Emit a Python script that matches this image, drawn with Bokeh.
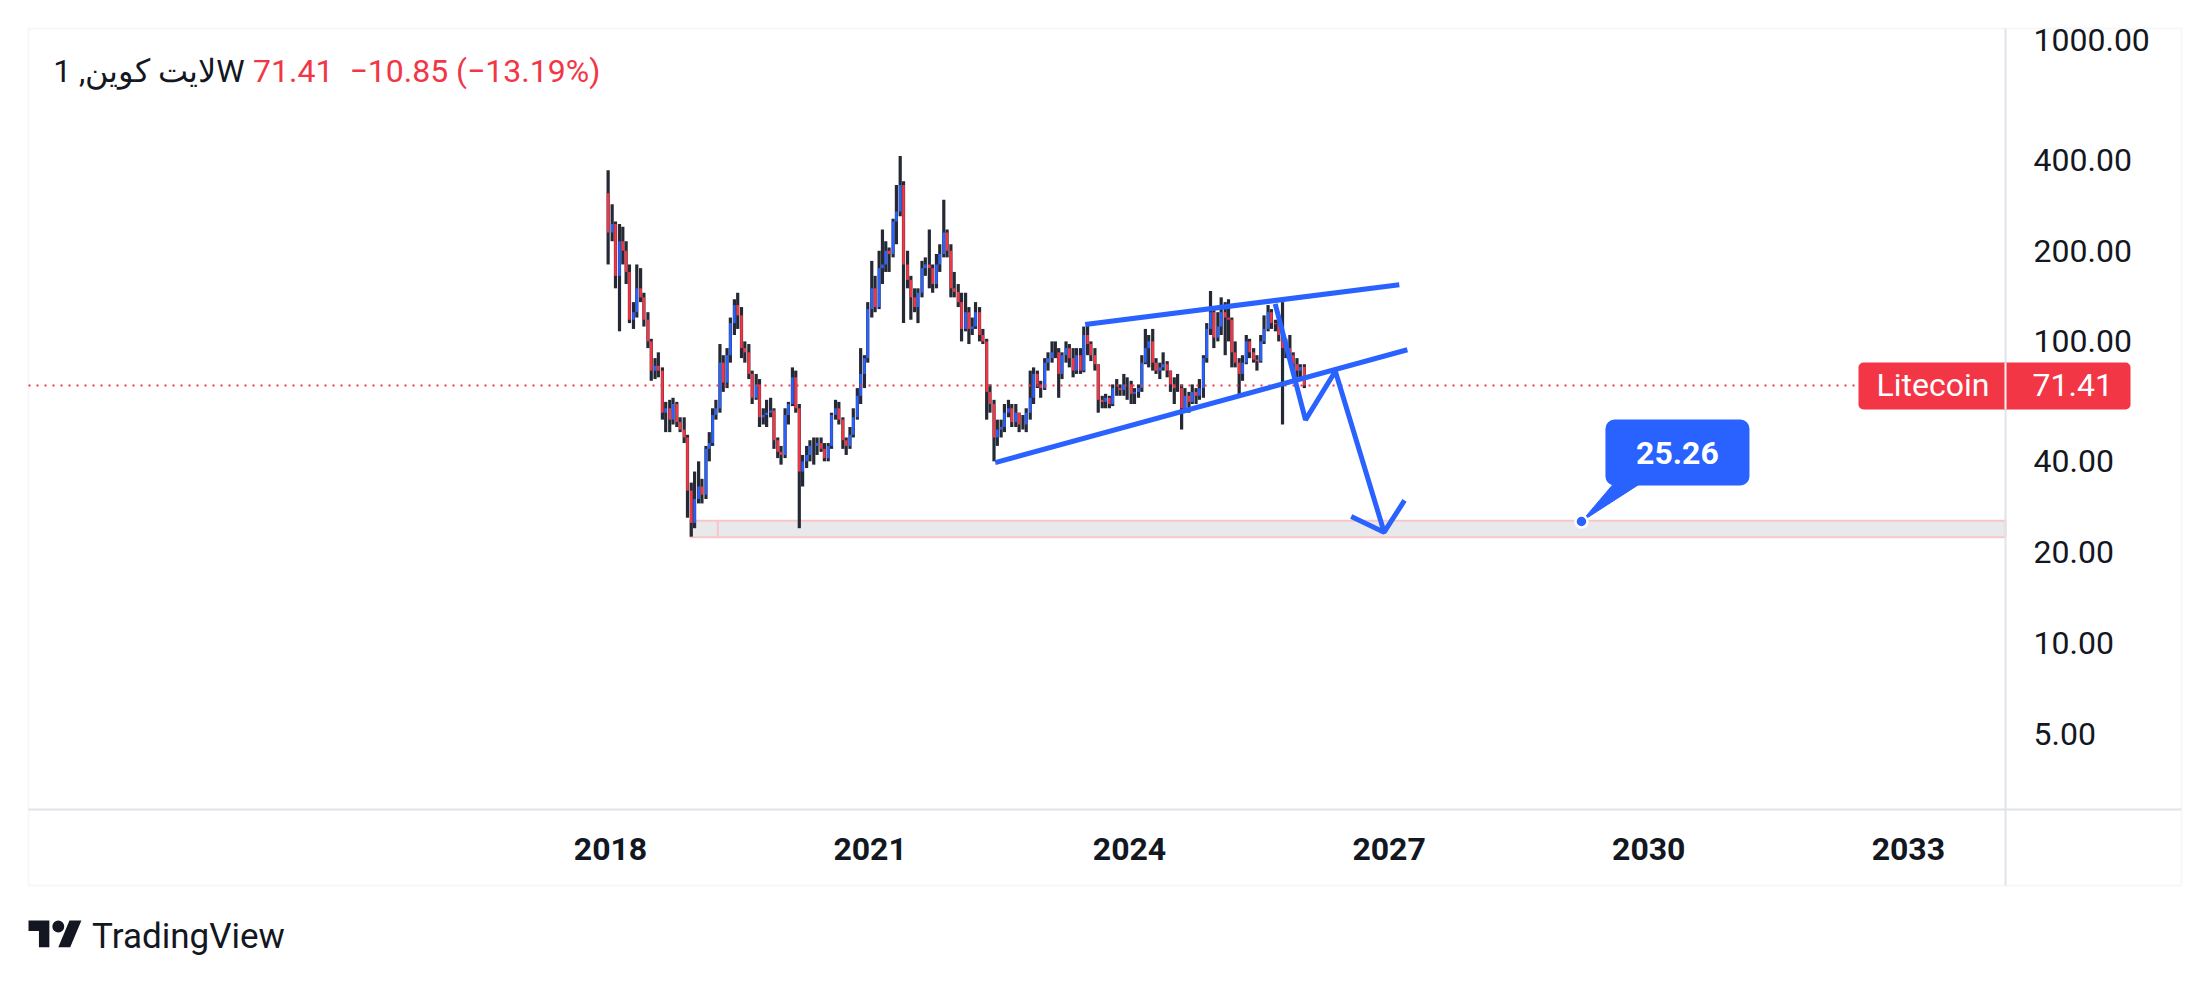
import pandas as pd
from bokeh.plotting import figure
from bokeh.models import (Range1d, FixedTicker, PrintfTickFormatter, DatetimeTickFormatter,
                          BoxAnnotation, Label, PolyAnnotation, ColumnDataSource)
from bokeh.embed import file_html
from bokeh.resources import INLINE

# ---------------- data ----------------
candle_start = "2017-12-15"          # half-month candles
first_open = 310
closes = [230,
    245, 165, 215, 200, 170, 118, 125, 150, 140, 118, 100, 80, 83, 80, 58, 60, 55, 62, 54, 51, 48, 32, 25, 30,
    33, 31, 44, 46, 57, 60, 85, 73, 90, 115, 132, 122, 95, 92, 78, 65, 72, 56, 57, 58, 59, 47, 43, 42,
    57, 62, 76, 60, 37, 40, 42, 45, 45, 46, 44, 41, 45, 57, 60, 55, 47, 45, 49, 56, 66, 78, 88, 128,
    150, 130, 175, 180, 200, 195, 250, 270, 330, 180, 160, 140, 130, 145, 175, 180, 175, 155, 180, 195, 230, 200, 150, 146,
    135, 110, 125, 110, 112, 125, 105, 100, 68, 62, 48, 51, 52, 58, 60, 54, 58, 53, 53, 58, 65, 78, 72, 70,
    85, 88, 92, 92, 78, 90, 95, 88, 80, 90, 80, 105, 98, 90, 84, 64, 63, 65, 62, 70, 70, 69, 72, 72,
    67, 68, 70, 85, 95, 100, 85, 80, 82, 84, 80, 72, 70, 70, 60, 66, 63, 68, 66, 70, 88, 110, 125, 103,
    112, 125, 120, 118, 92, 85, 78, 85, 100, 92, 87, 86, 100, 110, 125, 115, 114, 105, 95, 95, 90, 84, 80, 82.26,
    71.41]
highs = [370,
    285, 250, 245, 240, 215, 180, 135, 180, 175, 145, 125, 102, 88, 92, 82, 63, 64, 65, 63, 56, 56, 49, 34, 37,
    40, 35, 45, 50, 60, 64, 98, 90, 95, 120, 138, 145, 130, 100, 98, 80, 78, 75, 60, 64, 65, 60, 48, 45,
    60, 63, 82, 80, 62, 42, 45, 47, 48, 48, 48, 46, 46, 58, 64, 63, 56, 48, 52, 60, 70, 95, 90, 135,
    185, 165, 200, 235, 215, 205, 255, 330, 412, 340, 200, 165, 150, 150, 185, 190, 235, 180, 195, 210, 295, 235, 210, 170,
    155, 145, 145, 130, 120, 135, 130, 110, 102, 72, 64, 55, 55, 62, 64, 62, 62, 58, 57, 60, 80, 82, 80, 74,
    88, 92, 100, 100, 95, 92, 100, 98, 95, 95, 95, 112, 115, 100, 95, 84, 66, 67, 66, 72, 75, 72, 78, 76,
    74, 70, 72, 90, 110, 105, 110, 88, 85, 92, 86, 80, 76, 78, 72, 70, 68, 72, 70, 75, 90, 115, 147, 130,
    125, 140, 135, 138, 120, 100, 88, 90, 105, 102, 95, 90, 105, 122, 132, 128, 118, 120, 135, 102, 105, 92, 88, 84,
    84]
lows = [180,
    215, 150, 108, 180, 155, 115, 110, 120, 135, 112, 95, 74, 75, 76, 55, 50, 50, 53, 52, 50, 46, 26, 22.5, 24,
    29, 29, 30, 40, 45, 55, 58, 68, 70, 85, 105, 110, 88, 85, 75, 62, 64, 52, 53, 52, 56, 44, 41, 39,
    41, 53, 61, 58, 24, 33, 38, 40, 39, 42, 43, 40, 40, 44, 55, 53, 44, 42, 44, 48, 55, 62, 70, 85,
    120, 125, 128, 155, 170, 170, 190, 210, 260, 115, 150, 118, 125, 115, 140, 165, 150, 145, 150, 170, 190, 190, 140, 140,
    130, 100, 108, 98, 105, 110, 100, 98, 55, 58, 40, 45, 48, 50, 56, 52, 52, 50, 51, 50, 55, 62, 70, 65,
    69, 80, 85, 88, 65, 75, 85, 82, 76, 78, 78, 79, 90, 86, 80, 58, 60, 60, 60, 61, 66, 66, 66, 64,
    62, 62, 65, 68, 84, 82, 80, 78, 75, 80, 76, 68, 62, 68, 51, 58, 58, 62, 62, 64, 65, 85, 105, 95,
    100, 105, 90, 100, 82, 82, 66, 74, 84, 88, 85, 80, 85, 98, 108, 110, 108, 100, 53, 88, 85, 78, 76, 74,
    70]

symbol_title = "لايت كوين, 1W"
last_price = 71.41
last_price_text = "71.41"
change_text = "−10.85 (−13.19%)"
series_name = "Litecoin"
price_ticks = [5, 10, 20, 40, 100, 200, 400, 1000]
year_ticks = [2018, 2021, 2024, 2027, 2030, 2033]

channel_upper_dates = ["2023-06-28", "2027-02-13"]
channel_upper_prices = [113.8, 154.1]
channel_lower_dates = ["2022-06-13", "2027-03-19"]
channel_lower_prices = [39.6, 93.8]
path_dates = ["2025-09-07", "2026-01-13", "2026-05-19", "2026-12-11"]
path_prices = [133.3, 54.9, 79.6, 23.28]
head_dates = ["2026-07-25", "2026-12-11", "2027-03-07"]
head_prices = [26.24, 23.28, 29.67]
zone_dates = ["2018-12-04", "2019-03-30"]
zone_prices = [22.4, 25.4]
target_date = "2029-03-23"
target_price = 25.26
target_text = "25.26"

# ---------------- colours / layout constants (canvas pixels) ----------------
UP, DOWN, WICK = "#2962ff", "#f23645", "#252935"
BLUE, RED, TEXT, BORDER = "#2962ff", "#f23645", "#131722", "#e0e3eb"
FONT = "Roboto"
W, H = 2200, 975
BOX_L, BOX_T, BOX_R, BOX_B = 28, 28, 2181, 885     # outer chart border
SEP_X, SEP_Y = 2005, 809                            # price-scale / time-scale separators
X2018_PX, PX_PER_YEAR = 610, 86.52                  # time scale
Y1000_PX, PX_PER_DECADE = 39.5, 301.4               # log price scale
MS_PER_PX = 365.25 * 86400e3 / PX_PER_YEAR


def ms(d):
    return pd.Timestamp(d).value / 1e6


def x_at(px):
    return ms("2018-01-01") + (px - X2018_PX) * MS_PER_PX


def y_at(py):
    return 10 ** (3 - (py - Y1000_PX) / PX_PER_DECADE)


def offset(date, price, dx, dy_up):
    return ms(date) + dx * MS_PER_PX, price * 10 ** (dy_up / PX_PER_DECADE)


# ---------------- candles ----------------
dates = pd.date_range(candle_start, periods=len(closes), freq="SMS")
opens = [first_open] + closes[:-1]
src = ColumnDataSource(dict(
    x=dates + pd.Timedelta(days=7), o=opens, h=highs, l=lows, c=closes,
    col=[UP if c >= o else DOWN for o, c in zip(opens, closes)]))

p = figure(width=W, height=H, x_axis_type="datetime", y_axis_type="log",
           x_range=Range1d(x_at(0), x_at(W)), y_range=Range1d(y_at(H), y_at(0)), title=None,
           output_backend="svg", toolbar_location=None, y_axis_location="right",
           min_border=0, min_border_left=0, min_border_right=0, min_border_top=0, min_border_bottom=0)
p.outline_line_color = None
p.xgrid.visible = False
p.ygrid.visible = False
p.background_fill_color = "white"
p.border_fill_color = "white"

# axes (placed on the separators)
p.yaxis.ticker = FixedTicker(ticks=price_ticks, minor_ticks=[])
p.yaxis.formatter = PrintfTickFormatter(format="%.2f")
p.yaxis.fixed_location = x_at(SEP_X)
p.yaxis.bounds = (y_at(BOX_B), y_at(BOX_T))
p.xaxis.ticker = FixedTicker(ticks=[ms(f"{y}-01-01") for y in year_ticks], minor_ticks=[])
p.xaxis.formatter = DatetimeTickFormatter(years="%Y", months="%Y", days="%Y", hours="%Y")
p.xaxis.fixed_location = y_at(SEP_Y)
p.xaxis.bounds = (x_at(BOX_L), x_at(BOX_R))
for ax in (p.xaxis, p.yaxis):
    ax.axis_line_color = BORDER
    ax.axis_line_width = 2
    ax.major_tick_line_color = None
    ax.minor_tick_line_color = None
    ax.major_label_text_font = FONT
    ax.major_label_text_font_size = "32px"
    ax.major_label_text_color = TEXT
p.yaxis.major_label_standoff = 22
p.xaxis.major_label_standoff = 22
p.xaxis.major_label_text_font_style = "bold"

# outer border
p.add_layout(BoxAnnotation(left=BOX_L, right=BOX_R, top=BOX_T, bottom=BOX_B, left_units="canvas",
                           right_units="canvas", top_units="canvas", bottom_units="canvas",
                           fill_color=None, line_color=BORDER, line_width=2, level="underlay"))

# support zone
p.quad(left=[ms(zone_dates[0])], right=[x_at(SEP_X)], bottom=[zone_prices[0]], top=[zone_prices[1]],
       fill_color="#e9e9ec", line_color="#f7c6ca", line_width=2)
p.segment(x0=[ms(zone_dates[1])], x1=[ms(zone_dates[1])], y0=[zone_prices[0]], y1=[zone_prices[1]],
          line_color="#f7c6ca", line_width=2)

# candles
p.segment(x0="x", x1="x", y0="l", y1="h", source=src, line_color=WICK, line_width=3.2)
p.segment(x0="x", x1="x", y0="o", y1="c", source=src, line_color="col", line_width=2.6)

# last price line
p.segment(x0=[x_at(BOX_L)], x1=[x_at(1858)], y0=[last_price], y1=[last_price],
          line_color=RED, line_width=2, line_dash="2 6")

# drawings
for dts, prs in [(channel_upper_dates, channel_upper_prices), (channel_lower_dates, channel_lower_prices),
                 (path_dates, path_prices), (head_dates, head_prices)]:
    p.line(x=[pd.Timestamp(d) for d in dts], y=prs, line_color=BLUE, line_width=5)

# callout
bx0, by0 = offset(target_date, target_price, 24, 36)
bx1, by1 = offset(target_date, target_price, 168, 102)
t1x, t1y = offset(target_date, target_price, 34, 40)
t2x, t2y = offset(target_date, target_price, 62, 40)
p.patch(x=[ms(target_date), t1x, t2x], y=[target_price, t1y, t2y], fill_color=BLUE, line_color=BLUE, line_width=1)
p.add_layout(BoxAnnotation(left=bx0, right=bx1, bottom=by0, top=by1, fill_color=BLUE, fill_alpha=1,
                           line_color=None, border_radius=9, level="glyph"))
tx, ty = offset(target_date, target_price, 96, 69)
p.add_layout(Label(x=tx, y=ty, text=target_text, text_align="center", text_baseline="middle",
                   text_font=FONT, text_font_size="32px", text_font_style="bold", text_color="white"))
p.scatter(x=[pd.Timestamp(target_date)], y=[target_price], size=12, fill_color=BLUE,
          line_color="white", line_width=2.5)

# last price tag
p.add_layout(BoxAnnotation(left=1858, right=2130, left_units="canvas", right_units="canvas",
                           top=y_at(362), bottom=y_at(409), fill_color=RED, fill_alpha=1, line_color=None,
                           border_radius=5))
p.add_layout(BoxAnnotation(left=SEP_X - 1, right=SEP_X + 1, left_units="canvas", right_units="canvas",
                           top=y_at(362), bottom=y_at(409), fill_color="#f5f5f7", fill_alpha=1, line_color=None))
p.add_layout(Label(x=1876, y=last_price, x_units="canvas", text=series_name, text_baseline="middle",
                   text_font=FONT, text_font_size="32px", text_color="white"))
p.add_layout(Label(x=2032, y=last_price, x_units="canvas", text=last_price_text, text_baseline="middle",
                   text_font=FONT, text_font_size="32px", text_color="white"))

# header
p.add_layout(Label(x=52.7, y=70.5, x_units="canvas", y_units="canvas", text=symbol_title,
                   text_baseline="alphabetic", text_font=FONT, text_font_size="32px", text_color=TEXT))
p.add_layout(Label(x=252.5, y=70.5, x_units="canvas", y_units="canvas", text=last_price_text,
                   text_baseline="alphabetic", text_font=FONT, text_font_size="32px", text_color=RED))
p.add_layout(Label(x=349, y=70.5, x_units="canvas", y_units="canvas", text=change_text,
                   text_baseline="alphabetic", text_font=FONT, text_font_size="32px", text_color=RED))

# TradingView logo
s, ox, oy = 1.49, 28, 914
logo_T = [(14, 22), (7, 22), (7, 11), (0, 11), (0, 4), (14, 4)]
logo_slash = [(28, 22), (20, 22), (27.5, 4), (35.5, 4)]
for shape in (logo_T, logo_slash):
    p.add_layout(PolyAnnotation(xs=[ox + s * u for u, v in shape], ys=[oy + s * v for u, v in shape],
                                xs_units="canvas", ys_units="canvas", fill_color=TEXT, fill_alpha=1,
                                line_color=None))
p.add_layout(BoxAnnotation(left=ox + s * 16, right=ox + s * 24, top=oy + s * 4, bottom=oy + s * 12,
                           left_units="canvas", right_units="canvas", top_units="canvas", bottom_units="canvas",
                           fill_color=TEXT, fill_alpha=1, line_color=None, border_radius=6))
p.add_layout(Label(x=91.6, y=936, x_units="canvas", y_units="canvas", text="TradingView",
                   text_baseline="alphabetic", text_font=FONT, text_font_size="35px", text_color=TEXT))

open("out.html", "w").write(file_html(p, INLINE))
